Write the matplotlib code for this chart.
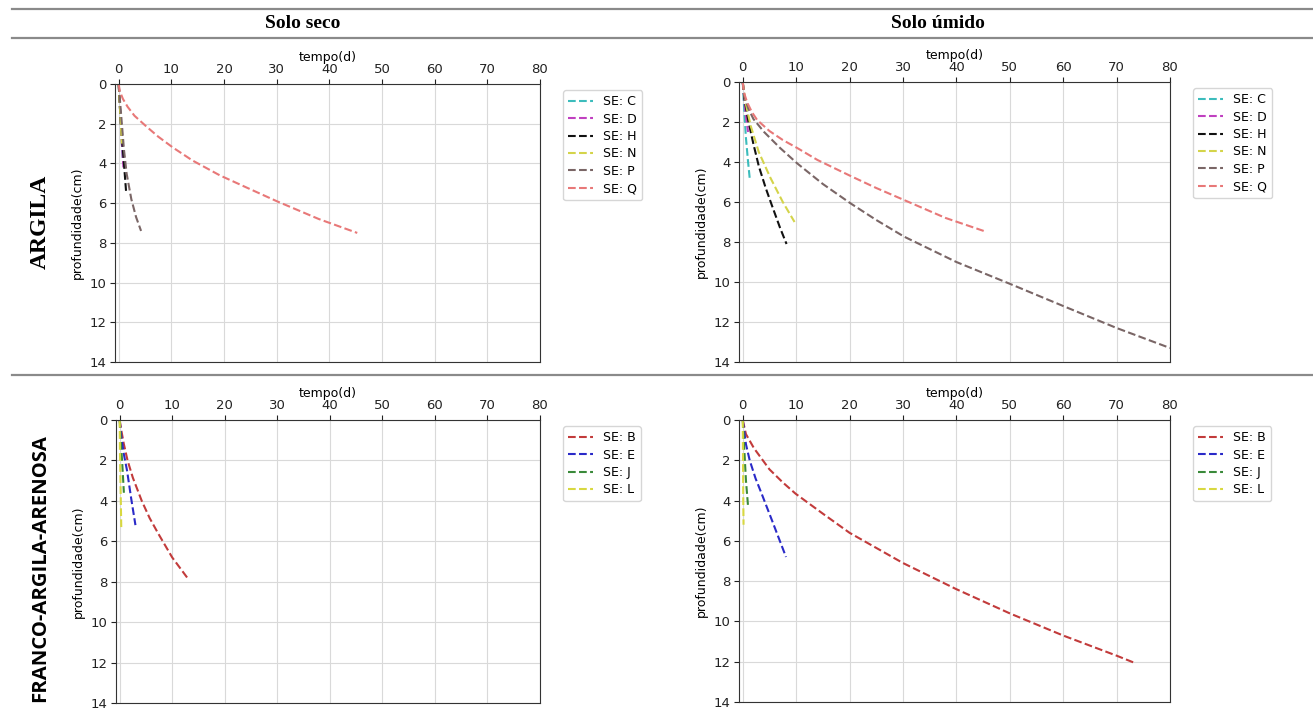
import matplotlib.pyplot as plt

# ---- dados (tempo em dias, profundidade em cm) ----
# Argila, solo seco
arg_seco_C_t = [0, 0.2, 0.4, 0.6, 0.8]
arg_seco_C_z = [0, 1.0, 2.0, 3.0, 3.8]
arg_seco_D_t = [0, 0.3, 0.6, 0.9]
arg_seco_D_z = [0, 1.5, 3.0, 4.2]
arg_seco_H_t = [0, 0.2, 0.4, 0.7, 1.0, 1.4]
arg_seco_H_z = [0, 1.0, 2.0, 3.0, 4.0, 5.4]
arg_seco_N_t = [0, 0.3, 0.6]
arg_seco_N_z = [0, 1.5, 3.0]
arg_seco_P_t = [0, 0.3, 0.6, 1.0, 1.5, 2.4, 3.3, 4.25]
arg_seco_P_z = [0, 1.0, 2.0, 3.3, 4.5, 5.8, 6.7, 7.4]
arg_seco_Q_t = [0, 0.2, 0.8, 1.7, 3.0, 5.3, 7.5, 10.3, 14.0, 19.2, 25.0, 30.0, 38.0, 45.3]
arg_seco_Q_z = [0, 0.35, 0.75, 1.15, 1.6, 2.15, 2.65, 3.2, 3.85, 4.6, 5.3, 5.9, 6.8, 7.5]

# Argila, solo úmido
arg_umido_C_t = [0, 0.3, 0.6, 1.0, 1.3]
arg_umido_C_z = [0, 1.5, 2.8, 4.0, 4.8]
arg_umido_D_t = [0, 0.5, 1.0]
arg_umido_D_z = [0, 1.5, 2.5]
arg_umido_H_t = [0, 0.3, 1.0, 2.0, 3.0, 4.3, 5.5, 7.0, 8.2]
arg_umido_H_z = [0, 0.8, 1.9, 3.1, 4.2, 5.3, 6.2, 7.3, 8.1]
arg_umido_N_t = [0, 0.5, 1.5, 3.0, 5.2, 7.5, 9.7]
arg_umido_N_z = [0, 1.0, 2.2, 3.5, 4.8, 6.0, 7.0]
arg_umido_P_t = [0, 0.3, 1.0, 2.0, 4.0, 7.0, 10.2, 15.0, 20.2, 25.0, 30.2, 40.0, 50.1, 60.0, 70.0, 80.0]
arg_umido_P_z = [0, 0.7, 1.3, 1.85, 2.5, 3.3, 4.07, 5.1, 6.07, 6.9, 7.73, 9.0, 10.1, 11.2, 12.3, 13.3]
arg_umido_Q_t = [0, 0.2, 0.8, 1.7, 2.7, 5.0, 7.5, 10.2, 14.0, 20.2, 25.0, 30.2, 38.0, 45.7]
arg_umido_Q_z = [0, 0.5, 1.0, 1.5, 1.9, 2.45, 2.9, 3.3, 3.9, 4.7, 5.3, 5.9, 6.8, 7.5]

# Franco-argila-arenosa, solo seco
fra_seco_B_t = [0, 0.3, 0.8, 1.5, 2.5, 4.2, 5.7, 7.3, 10.0, 13.0]
fra_seco_B_z = [0, 0.5, 1.2, 2.0, 2.85, 4.0, 4.85, 5.6, 6.8, 7.85]
fra_seco_E_t = [0, 0.3, 0.8, 1.4, 2.2, 3.0]
fra_seco_E_z = [0, 0.8, 1.7, 2.5, 3.9, 5.2]
fra_seco_J_t = [0, 0.2, 0.5, 0.8]
fra_seco_J_z = [0, 1.0, 2.2, 3.6]
fra_seco_L_t = [0, 0.05, 0.15, 0.3]
fra_seco_L_z = [0, 1.5, 3.0, 5.3]

# Franco-argila-arenosa, solo úmido
fra_umido_B_t = [0, 0.6, 2.1, 5.0, 7.5, 9.9, 15.0, 20.0, 30.0, 40.0, 50.0, 60.0, 70.0, 73.3]
fra_umido_B_z = [0, 0.7, 1.4, 2.45, 3.1, 3.66, 4.65, 5.6, 7.1, 8.4, 9.6, 10.7, 11.7, 12.05]
fra_umido_E_t = [0, 0.6, 1.3, 2.4, 3.6, 5.5, 8.1]
fra_umido_E_z = [0, 1.2, 2.0, 2.9, 3.7, 5.0, 6.8]
fra_umido_J_t = [0, 0.3, 0.6, 1.0]
fra_umido_J_z = [0, 1.5, 3.0, 4.3]
fra_umido_L_t = [0, 0.05, 0.1, 0.15]
fra_umido_L_z = [0, 2.0, 4.0, 5.2]

cores = {'C': '#3cbcbc', 'D': '#c040c0', 'H': '#111111', 'N': '#d4d44a',
         'P': '#7a6666', 'Q': '#e87878', 'B': '#c23b3b', 'E': '#2a2ac8',
         'J': '#3a8a3a', 'L': '#d8d840'}

W, H = 1313, 727
fig = plt.figure(figsize=(W / 100, H / 100), dpi=100)


def eixo(left, right, top, bottom):
    return fig.add_axes([left / W, (H - bottom) / H, (right - left) / W, (bottom - top) / H])


def desenha(ax, series):
    for nome, t, z in series:
        ax.plot(t, z, '--', color=cores[nome], lw=1.5, label='SE: ' + nome)
    ax.set_xlim(-0.7, 80)
    ax.set_ylim(14, 0)
    ax.set_xticks(range(0, 81, 10))
    ax.set_yticks(range(0, 15, 2))
    ax.xaxis.tick_top()
    ax.xaxis.set_label_position('top')
    ax.set_xlabel('tempo(d)', fontsize=9, labelpad=1)
    ax.set_ylabel('profundidade(cm)', fontsize=9)
    ax.tick_params(labelsize=9.5, colors='#222222', length=3.5, pad=2.5)
    ax.grid(True, color='#d9d9d9', lw=0.8)
    for s in ax.spines.values():
        s.set_color('#333333')
    ax.legend(loc='upper left', bbox_to_anchor=(1.04, 1.0), fontsize=9, frameon=True,
              handlelength=2.0, labelspacing=0.35)


ax1 = eixo(115, 540, 84, 362)
desenha(ax1, [('C', arg_seco_C_t, arg_seco_C_z), ('D', arg_seco_D_t, arg_seco_D_z),
              ('H', arg_seco_H_t, arg_seco_H_z), ('N', arg_seco_N_t, arg_seco_N_z),
              ('P', arg_seco_P_t, arg_seco_P_z), ('Q', arg_seco_Q_t, arg_seco_Q_z)])

ax2 = eixo(739, 1170, 82, 362)
desenha(ax2, [('C', arg_umido_C_t, arg_umido_C_z), ('D', arg_umido_D_t, arg_umido_D_z),
              ('H', arg_umido_H_t, arg_umido_H_z), ('N', arg_umido_N_t, arg_umido_N_z),
              ('P', arg_umido_P_t, arg_umido_P_z), ('Q', arg_umido_Q_t, arg_umido_Q_z)])

ax3 = eixo(116, 540, 420, 703)
desenha(ax3, [('B', fra_seco_B_t, fra_seco_B_z), ('E', fra_seco_E_t, fra_seco_E_z),
              ('J', fra_seco_J_t, fra_seco_J_z), ('L', fra_seco_L_t, fra_seco_L_z)])

ax4 = eixo(739, 1170, 420, 702)
desenha(ax4, [('B', fra_umido_B_t, fra_umido_B_z), ('E', fra_umido_E_t, fra_umido_E_z),
              ('J', fra_umido_J_t, fra_umido_J_z), ('L', fra_umido_L_t, fra_umido_L_z)])

# linhas da tabela
for yp in [9, 37.5, 375]:
    fig.add_artist(plt.Line2D([12 / W, 1.0], [1 - yp / H, 1 - yp / H],
                              color='#8a8a8a', lw=1.6, transform=fig.transFigure))

fig.text(303 / W, 1 - 23 / H, 'Solo seco', ha='center', va='center', fontsize=14,
         fontweight='bold', family='Liberation Serif')
fig.text(938 / W, 1 - 23 / H, 'Solo úmido', ha='center', va='center', fontsize=14,
         fontweight='bold', family='Liberation Serif')
fig.text(40 / W, 1 - 222 / H, 'ARGILA', ha='center', va='center', rotation=90,
         fontsize=17, fontweight='bold', family='Liberation Serif')
fig.text(40 / W, 1 - 568 / H, 'FRANCO-ARGILA-ARENOSA', ha='center', va='center', rotation=90,
         fontsize=14.6, fontweight='bold', family='Open Sans')

fig.savefig('out.png', dpi=100)
